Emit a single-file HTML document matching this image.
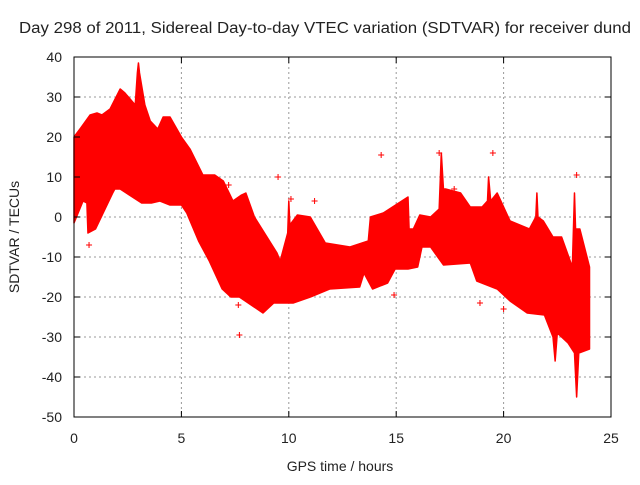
<!DOCTYPE html>
<html><head><meta charset="utf-8"><style>
body{margin:0;background:#fff;}
svg text{font-family:"Liberation Sans",sans-serif;font-size:14px;fill:#222;}
</style></head><body>
<svg width="640" height="480" viewBox="0 0 640 480" xmlns="http://www.w3.org/2000/svg">
<g id="grid"></g>
<g id="band"></g>
<g id="axes"></g>
<text x="325" y="33" text-anchor="middle" textLength="612" lengthAdjust="spacingAndGlyphs" style="font-size:15.5px">Day 298 of 2011, Sidereal Day-to-day VTEC variation (SDTVAR) for receiver dund</text>
<text x="340" y="471" text-anchor="middle">GPS time / hours</text>
<text transform="translate(19,237) rotate(-90)" text-anchor="middle">SDTVAR / TECUs</text>
</svg>
<script>
const upT=[0,0.28,0.75,1.07,1.3,1.68,2.15,2.37,2.85,2.95,3.0,3.05,3.3,3.55,3.9,4.15,4.47,5.0,5.4,6.0,6.55,6.95,7.4,7.8,8.0,8.4,9.45,9.6,9.95,10.0,10.05,10.4,11.0,11.7,12.85,13.7,13.8,14.4,15.55,15.6,15.8,16.1,16.6,17.0,17.1,17.2,17.3,18.0,18.45,19.0,19.25,19.3,19.4,19.7,20.3,21.2,21.5,21.55,21.6,21.85,22.3,22.7,23.2,23.3,23.35,23.55,24.0];
const upV=[20,22,25.5,26,25.5,27,32,31,28,36,38.5,36,28,24,22,25,25,20,17,10.5,10.5,9,4,5.5,6,0,-9,-11,-4,4,-2,0.5,0,-6.5,-7.5,-6,0,1,5,-3,-3,0.5,0,2,16,7,7,6,2.5,2.5,4,10,4,6,-1,-3,0,6,0,-1,-5,-5,-12.5,6,-3,-3,-12.5];
const loT=[0,0.42,0.6,0.65,1.0,1.8,1.9,2.15,3.15,3.6,4.0,4.47,5.0,5.25,5.8,6.3,6.9,7.3,7.7,8.8,9.3,10.2,11.0,11.9,13.3,13.5,13.9,14.6,14.95,15.55,16.0,16.2,16.6,17.2,18.45,18.75,19.7,20.3,21.1,21.9,22.3,22.4,22.5,23.0,23.3,23.4,23.5,24.0];
const loV=[-1.5,4,3.5,-4,-3,6,7,7,3.5,3.5,4,3,3,1,-6,-11,-18,-20,-20,-24,-21.5,-21.5,-20,-18,-17.5,-14,-18,-16.5,-13,-13,-12.5,-7.5,-7.5,-12,-11.5,-16,-18,-21,-24,-24.5,-30,-36,-29,-31.5,-34,-45,-34,-33];
const outT=[0.7,7.7,7.65,9.5,11.2,14.3,14.9,18.9,19.5,23.4,17,10.1,7.2,20.0,17.7];
const outV=[-7,-29.5,-22,10,4,15.5,-19.5,-21.5,16,10.5,16,4.5,8,-23,7];
const xTicks=[0,5,10,15,20,25];
const yTicks=[-50,-40,-30,-20,-10,0,10,20,30,40];
const L=74,R=611,T=57,B=417;
const xs=t=>L+(t-0)/25*(R-L);
const ys=v=>B-(v+50)/90*(B-T);
const NS="http://www.w3.org/2000/svg";
function mk(tag,attrs,parent){const e=document.createElementNS(NS,tag);for(const k in attrs)e.setAttribute(k,attrs[k]);parent.appendChild(e);return e;}
const grid=document.getElementById('grid'),axes=document.getElementById('axes'),band=document.getElementById('band');
xTicks.forEach(t=>{
  if(t>0&&t<25){const g=mk('line',{x1:xs(t),x2:xs(t),y1:T,y2:B,stroke:'#999','stroke-dasharray':'2,3'},grid);
  
  }
  const lb=mk('text',{x:xs(t),y:B+26,'text-anchor':'middle'},axes);lb.textContent=t;
  
  
  mk('line',{x1:xs(t),x2:xs(t),y1:B,y2:B-6,stroke:'#000'},axes);
  mk('line',{x1:xs(t),x2:xs(t),y1:T,y2:T+6,stroke:'#000'},axes);
});
yTicks.forEach(v=>{
  if(v>-50&&v<40){const g=mk('line',{x1:L,x2:R,y1:ys(v),y2:ys(v),stroke:'#999','stroke-dasharray':'2,3'},grid);
  
  }
  const lb=mk('text',{x:L-12,y:ys(v)+5,'text-anchor':'end'},axes);lb.textContent=v;
  
  
  mk('line',{x1:L,x2:L+6,y1:ys(v),y2:ys(v),stroke:'#000'},axes);
  mk('line',{x1:R,x2:R-6,y1:ys(v),y2:ys(v),stroke:'#000'},axes);
});
const fr=mk('rect',{x:L,y:T,width:R-L,height:B-T,fill:'none',stroke:'#000','stroke-width':1},axes);


let pts=upT.map((t,i)=>xs(t)+','+ys(upV[i]));
for(let i=loT.length-1;i>=0;i--)pts.push(xs(loT[i])+','+ys(loV[i]));
const poly=mk('polygon',{points:pts.join(' '),fill:'#ff0000',stroke:'#ff0000','stroke-width':1.5,'stroke-linejoin':'round'},band);


outT.forEach((t,i)=>{
  const x=xs(t),y=ys(outV[i]);
  const p=mk('path',{d:`M${x-3},${y}H${x+3}M${x},${y-3}V${y+3}`,stroke:'#ff0000','stroke-width':1},band);
  
  
});
</script>
</body></html>
